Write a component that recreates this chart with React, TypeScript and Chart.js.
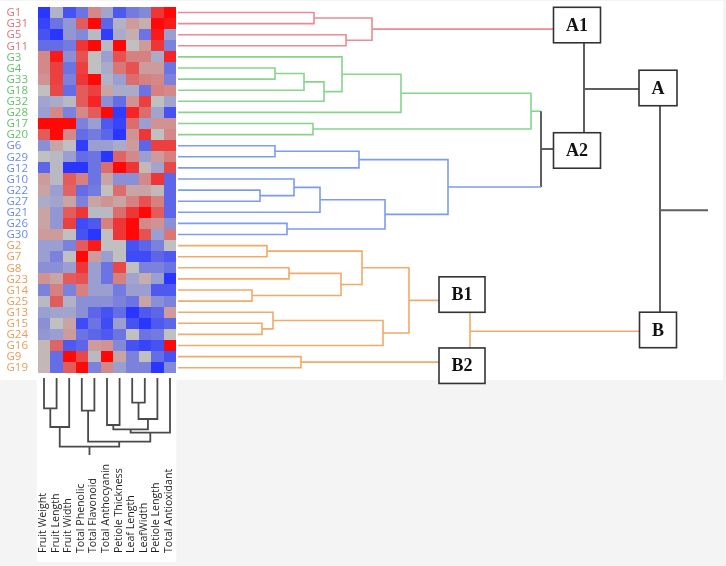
import React, { useEffect, useRef } from "react";
import { Chart, registerables } from "chart.js";
Chart.register(...registerables);

// ---------- data ----------
const rowLabels = [
  "G1", "G31", "G5", "G11",
  "G3", "G4", "G33", "G18", "G32", "G28", "G17", "G20",
  "G6", "G29", "G12", "G10", "G22", "G27", "G21", "G26", "G30",
  "G2", "G7", "G8", "G23", "G14", "G25", "G13", "G15", "G24", "G16", "G9", "G19",
];
const rowCluster = [
  "red", "red", "red", "red",
  "green", "green", "green", "green", "green", "green", "green", "green",
  "blue", "blue", "blue", "blue", "blue", "blue", "blue", "blue", "blue",
  "orange", "orange", "orange", "orange", "orange", "orange", "orange", "orange", "orange", "orange", "orange", "orange",
];
const colLabels = [
  "Fruit Weight", "Fruit Length", "Fruit Width", "Total Phenolic", "Total Flavonoid",
  "Total Anthocyanin", "Petiole Thickness", "Leaf Length", "LeafWidth", "Petiole Length", "Total Antioxidant",
];
// standardized values (rows in display order)
const zScores = [
  [-2, -0.2, -1.6, -1.1, 0.6, -0.4, -1.5, -1.0, -0.8, 1.5, 2],
  [-1.8, -1.1, -0.6, 1.1, 2, -1.3, -0.2, 0.4, 0.2, 2, 1.8],
  [-1.6, -2, -0.6, -0.8, -0.1, -1.9, -0.3, 0.2, -1.1, 1.8, -0.5],
  [-1.2, -1.2, -1.0, 1.5, 2, -0.1, 2, 0, 0.4, 1.5, -0.9],
  [0.6, 1.8, -0.7, 1.2, 0, -0.5, 1.2, 0.7, 0.7, -0.3, 1.7],
  [0.6, 1.4, -1.1, 1.4, 0, -0.3, 0.8, 1.2, 0.4, 0.4, -1.1],
  [0.5, 1.4, -0.9, 1.5, 2, -0.2, -0.5, 0.9, 0.7, 0.6, -0.9],
  [0, 1.3, -1.2, 1.1, 1.4, 0.3, -0.3, -0.3, -1.1, 0.7, 0.6],
  [-0.4, -0.3, -0.1, 1.1, 1.7, -0.7, -1.2, 0.5, 1.4, 0, -0.4],
  [-0.5, 0.6, -0.9, 0.6, 1.1, 2, -1.9, 1.7, 0.9, -0.4, -1.6],
  [2, 2, 2, -0.9, -0.5, -1.5, -1.8, 0.9, -0.5, 0.5, 0.5],
  [1.1, 2, 0.6, -1.2, -1.0, -1.3, -2, 0.5, 1.5, 0, 0.6],
  [-0.7, 0.3, 0, -1.9, -0.5, -0.5, -0.3, 0.4, -1.3, 1.4, 1.4],
  [0, -0.1, -0.5, -1.2, -1.1, -2, 1.0, 0.6, -0.5, 0.4, 0.7],
  [-1.3, -0.1, -2, -2, -1.1, 0.9, 2, 1.5, 0.1, -0.4, 1.3],
  [0.4, -0.1, 1.1, 0.7, -1.1, 0.3, -0.7, -0.7, 0.6, 1.5, -1.3],
  [0.3, -0.5, 1.0, -1.2, -1.0, 0, 0.9, 0.3, 0.3, 0.1, -1.3],
  [-0.3, -0.4, 0.3, -0.9, 0.3, 0.5, 0.3, 0.7, 1.2, 0.7, -1.3],
  [0.3, -0.6, 1.1, 1.5, -0.1, -0.1, 0.9, 1.5, 2, 1.1, -1.3],
  [0.3, -0.6, 1.4, -1.7, -1.5, 0.7, 1.5, 2, 0.6, 0.5, -0.7],
  [0.4, 0.4, 0, -1.6, -2, 0, 1.5, 2, 1.2, -0.5, 0.8],
  [-0.5, -0.5, -0.9, 1.1, 1.8, 0, 0, -1.6, -1.3, -0.9, 0],
  [-0.5, -0.9, 0, 2, 0.4, -0.5, 0, -1.7, -1.7, -1.3, -1.5],
  [-0.7, -0.7, -0.5, 1.5, -0.5, -1.1, 1.3, 0, -0.9, -0.9, -1.1],
  [0.5, 0.3, 1.1, 1.2, -0.5, -1.1, 0.7, -0.4, 0.2, -0.5, -2],
  [-0.9, 0.7, -0.9, 0.7, -0.5, -0.5, -1.0, -0.5, -0.5, -1.5, -1.5],
  [-0.1, 1.1, -0.2, -0.7, -0.7, -0.7, -0.9, -1.1, 0.3, -0.7, -0.9],
  [-0.5, -0.4, -0.4, -0.7, -1.3, -1.6, -1.2, -2, -1.5, -1.3, 0.4],
  [-0.7, 0, 0.3, -1.7, -1.1, -1.7, -0.5, -1.6, -2, -1.5, -1.3],
  [-0.6, -0.5, 0.4, -1.1, -1.3, -1.5, -1.1, 0, -1.1, -1.0, 0],
  [0.1, 1.0, -1.5, -1.3, 0.4, 0.5, -0.8, -1.6, -1.8, -1.6, 2],
  [0.1, -1.2, 2, 1.3, -0.1, 2, 0.3, -0.9, 0, -1.2, -1.6],
  [0.1, -1.2, 1.1, 2, -0.9, 0.6, -0.5, -0.9, -0.9, -2, -0.8],
];

// row linkage: [childA, childB, height]; leaves 0..32, merge k -> node 33+k
const rowMerges = [
  [0, 1, 13.6], [2, 3, 16.8], [33, 34, 19.4],
  [5, 6, 9.7], [36, 7, 12.6], [37, 8, 14.6], [4, 38, 16.4], [39, 9, 22.3], [10, 11, 13.5], [40, 41, 35.3],
  [12, 13, 9.7], [43, 14, 18.1], [16, 17, 8.2], [15, 45, 11.6], [46, 18, 14.2], [19, 20, 10.9], [47, 48, 20.7], [44, 49, 27.0],
  [42, 50, 36.3],
  [21, 22, 8.9], [23, 24, 11.1], [25, 26, 7.4], [53, 54, 16.3], [52, 55, 18.4], [28, 29, 8.4], [27, 57, 9.5], [58, 30, 20.5], [56, 59, 23.1],
  [31, 32, 12.3],
  [35, 51, 40.6], [60, 61, 29.2], [62, 63, 48.2],
];
const rowMergeColor = [
  "red", "red", "red",
  "green", "green", "green", "green", "green", "green", "green",
  "blue", "blue", "blue", "blue", "blue", "blue", "blue", "blue",
  "gray",
  "orange", "orange", "orange", "orange", "orange", "orange", "orange", "orange", "orange",
  "orange",
  "gray", "orange", "gray",
];
const rowRootTail = 53.0;

// column linkage: leaves 0..10, merge k -> node 11+k
const colMerges = [
  [0, 1, 6.06], [11, 2, 9.8], [3, 4, 6.54], [5, 6, 9.4], [7, 8, 4.94], [15, 9, 8.2],
  [14, 16, 10.26], [17, 10, 10.94], [13, 18, 12.74], [12, 19, 13.74],
];
const colRootTail = 15.4;

// cluster boxes
const boxLabels = ["A1", "A2", "A", "B1", "B2", "B"];
const boxX = [39.9, 39.9, 48.0, 28.4, 28.4, 48.0];
const boxY = [1.13, 12.43, 6.8, 25.41, 31.82, 28.6];

// ---------- styles ----------
const lineColors: Record<string, string> = {
  red: "#ec8a93", green: "#88d48b", blue: "#7c9cf0", orange: "#f0aa6a", gray: "#5e5e5e",
};
const labelColors: Record<string, string> = {
  red: "#e5707a", green: "#62c266", blue: "#6b8ae8", orange: "#e79c58",
};

function heatColor(v: number) {
  const t = Math.max(-1, Math.min(1, v / 2));
  const mid = [192, 192, 192];
  const end = t >= 0 ? [255, 8, 8] : [40, 54, 255];
  const a = Math.abs(t);
  const c = mid.map((m, i) => Math.round(m + (end[i] - m) * a));
  return `rgb(${c[0]},${c[1]},${c[2]})`;
}

function buildTree(nLeaves: number, merges: number[][], nodeColorOf: (id: number) => string) {
  const pos: number[] = [];
  const hgt: number[] = [];
  for (let i = 0; i < nLeaves; i++) { pos.push(i); hgt.push(0); }
  merges.forEach((m) => {
    pos.push((pos[m[0]] + pos[m[1]]) / 2);
    hgt.push(m[2]);
  });
  const segs = merges.map((m, k) => {
    const a = m[0], b = m[1], h = m[2];
    return {
      pts: [
        { h: hgt[a], p: pos[a] },
        { h, p: pos[a] },
        { h, p: pos[b] },
        { h: hgt[b], p: pos[b] },
      ],
      colors: [nodeColorOf(a), nodeColorOf(nLeaves + k), nodeColorOf(b)],
    };
  });
  return { pos, hgt, segs };
}

export default function App() {
  const ref = useRef<HTMLCanvasElement>(null);
  useEffect(() => {
    document.body.style.margin = "0";
    const canvas = ref.current!;
    const nR = rowLabels.length;
    const nC = colLabels.length;

    const rowNodeColor = (id: number) => (id < nR ? rowCluster[id] : rowMergeColor[id - nR]);
    const rowTree = buildTree(nR, rowMerges, rowNodeColor);
    const colTree = buildTree(nC, colMerges, () => "gray");

    const datasets: any[] = [];
    const widthOf = (c: string) => (c === "gray" ? 2 : 1.6);
    rowTree.segs.forEach((s) => {
      datasets.push({
        data: s.pts.map((q) => ({ x: q.h, y: q.p })),
        xAxisID: "x", yAxisID: "y",
        showLine: true, pointRadius: 0, borderWidth: 1.6,
        borderColor: lineColors[s.colors[1]],
        segment: {
          borderColor: (ctx: any) => lineColors[s.colors[ctx.p0DataIndex]],
          borderWidth: (ctx: any) => widthOf(s.colors[ctx.p0DataIndex]),
        },
      });
    });
    const rootR = rowTree.pos.length - 1;
    datasets.push({
      data: [{ x: rowTree.hgt[rootR], y: rowTree.pos[rootR] }, { x: rowRootTail, y: rowTree.pos[rootR] }],
      xAxisID: "x", yAxisID: "y", showLine: true, pointRadius: 0, borderWidth: 2, borderColor: lineColors.gray,
    });
    colTree.segs.forEach((s) => {
      datasets.push({
        data: s.pts.map((q) => ({ x: q.p, y: q.h })),
        xAxisID: "xh", yAxisID: "yc",
        showLine: true, pointRadius: 0, borderWidth: 1.8, borderColor: "#4a4a4a",
      });
    });
    const rootC = colTree.pos.length - 1;
    datasets.push({
      data: [{ x: colTree.pos[rootC], y: colTree.hgt[rootC] }, { x: colTree.pos[rootC], y: colRootTail }],
      xAxisID: "xh", yAxisID: "yc", showLine: true, pointRadius: 0, borderWidth: 1.8, borderColor: "#4a4a4a",
    });

    const bgPlugin = {
      id: "bg",
      beforeDraw(chart: any) {
        const c = chart.ctx;
        const ys = chart.scales.y;
        const xh = chart.scales.xh;
        const yc = chart.scales.yc;
        c.save();
        c.fillStyle = "#f4f4f4";
        c.fillRect(0, 0, chart.width, chart.height);
        c.fillStyle = "#ffffff";
        c.fillRect(0, 1, 723, 379);
        const px0 = xh.getPixelForValue(-0.5) - 1;
        const px1 = xh.getPixelForValue(nC - 0.5);
        const py0 = ys.getPixelForValue(nR - 0.5);
        const py1 = yc.getPixelForValue(36.8);
        c.fillRect(px0, py0, px1 - px0, py1 - py0);
        c.restore();
      },
    };

    const heatPlugin = {
      id: "heat",
      beforeDatasetsDraw(chart: any) {
        const c = chart.ctx;
        const xh = chart.scales.xh;
        const ys = chart.scales.y;
        const yc = chart.scales.yc;
        c.save();
        zScores.forEach((row, i) => {
          const y0 = Math.round(ys.getPixelForValue(i - 0.5));
          const y1 = Math.round(ys.getPixelForValue(i + 0.5));
          row.forEach((v, j) => {
            const x0 = Math.round(xh.getPixelForValue(j - 0.5));
            const x1 = Math.round(xh.getPixelForValue(j + 0.5));
            c.fillStyle = heatColor(v);
            c.fillRect(x0, y0, x1 - x0, y1 - y0);
          });
        });
        // row labels
        c.font = "11.5px 'Open Sans', 'Noto Sans', sans-serif";
        c.textAlign = "left";
        c.textBaseline = "middle";
        rowLabels.forEach((lab, i) => {
          c.fillStyle = labelColors[rowCluster[i]];
          c.fillText(lab, 6.5, ys.getPixelForValue(i) + 0.5);
        });
        // column labels
        c.font = "10.6px 'Open Sans', 'Noto Sans', sans-serif";
        c.fillStyle = "#1e1e1e";
        c.textAlign = "left";
        c.textBaseline = "alphabetic";
        colLabels.forEach((lab, j) => {
          c.save();
          c.translate(xh.getPixelForValue(j) + 2, yc.getPixelForValue(35));
          c.rotate(-Math.PI / 2);
          c.fillText(lab, 0, 0);
          c.restore();
        });
        c.restore();
      },
    };

    const boxPlugin = {
      id: "boxes",
      afterDatasetsDraw(chart: any) {
        const c = chart.ctx;
        const xs = chart.scales.x;
        const ys = chart.scales.y;
        c.save();
        c.font = "bold 18px 'Liberation Serif', 'Times New Roman', serif";
        c.textAlign = "center";
        c.textBaseline = "middle";
        boxLabels.forEach((lab, k) => {
          const cx = xs.getPixelForValue(boxX[k]);
          const cy = ys.getPixelForValue(boxY[k]);
          const w = c.measureText(lab).width + 25;
          const h = 35.5;
          c.fillStyle = "#ffffff";
          c.fillRect(cx - w / 2, cy - h / 2, w, h);
          c.strokeStyle = "#333333";
          c.lineWidth = 1.6;
          c.strokeRect(cx - w / 2, cy - h / 2, w, h);
          c.fillStyle = "#111111";
          c.fillText(lab, cx, cy + 1);
        });
        c.restore();
      },
    };

    const W = 726, H = 566;
    const xhUnit = 12.6, xhLeft = 37.7;
    const xhMin = -0.5 - xhLeft / xhUnit;
    const xdUnit = 10, xdZero = 178;
    const xdMin = -xdZero / xdUnit;
    const rowUnit = 11.1, rowFirst = 12.5;
    const yMin = -rowFirst / rowUnit;
    const ycUnit = 5, ycZero = 378;
    const ycMin = -ycZero / ycUnit;

    const chart = new Chart(canvas, {
      type: "scatter",
      data: { datasets },
      options: {
        responsive: false,
        animation: false,
        devicePixelRatio: 1,
        events: [],
        layout: { padding: 0 },
        plugins: { legend: { display: false }, tooltip: { enabled: false } },
        scales: {
          x: { type: "linear", display: false, min: xdMin, max: xdMin + W / xdUnit },
          y: { type: "linear", display: false, reverse: true, min: yMin, max: yMin + H / rowUnit },
          xh: { type: "linear", axis: "x", position: "bottom", display: false, min: xhMin, max: xhMin + W / xhUnit },
          yc: { type: "linear", axis: "y", position: "left", display: false, reverse: true, min: ycMin, max: ycMin + H / ycUnit },
        },
      } as any,
      plugins: [bgPlugin, heatPlugin, boxPlugin],
    });
    return () => chart.destroy();
  }, []);
  return <canvas ref={ref} width={726} height={566} style={{ display: "block" }} />;
}
